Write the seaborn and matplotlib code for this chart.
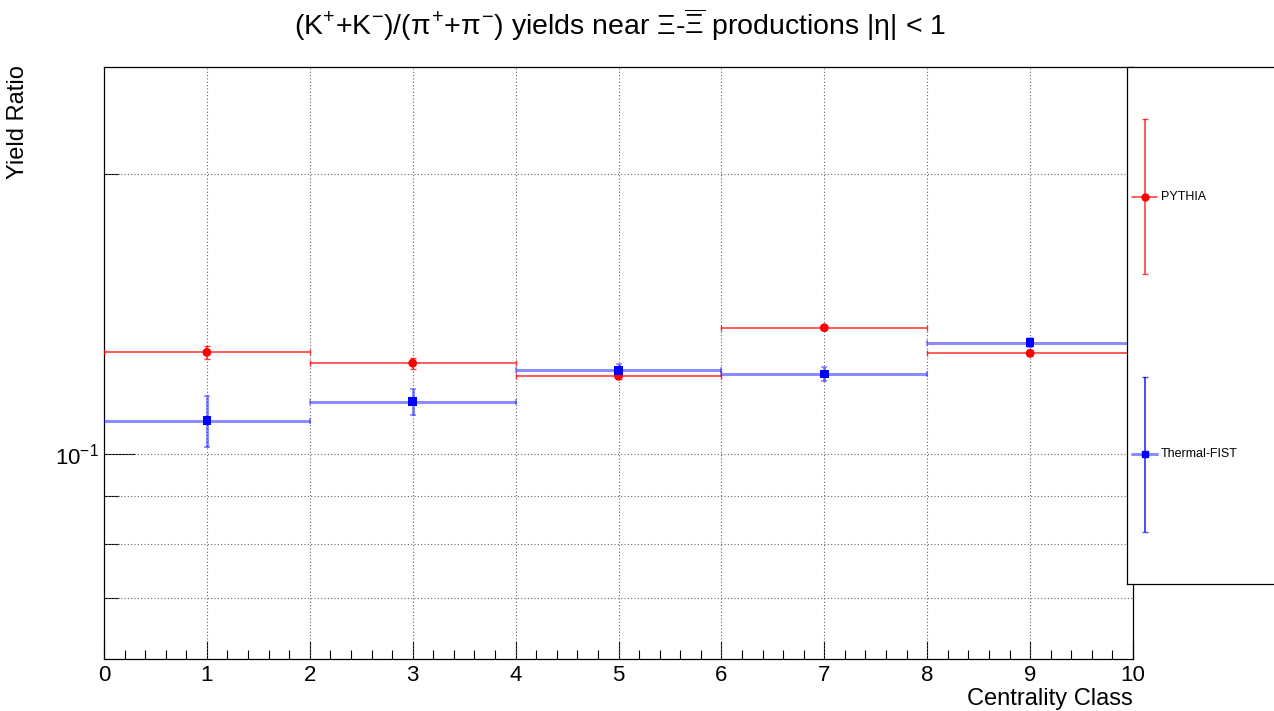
import numpy as np
import pandas as pd
import matplotlib
matplotlib.use("Agg")
import matplotlib.pyplot as plt
import seaborn as sns
from matplotlib.ticker import FixedLocator, FixedFormatter, NullFormatter

# ---- data ----
centrality = [1, 3, 5, 7, 9]
bin_halfwidth = [1, 1, 1, 1, 1]
pythia = [0.1286, 0.1252, 0.1212, 0.1367, 0.1283]
pythia_err = [0.0022, 0.0017, 0.0008, 0.0007, 0.0009]
thermal = [0.1085, 0.1138, 0.1230, 0.1219, 0.1317]
thermal_err = [0.0069, 0.0037, 0.0018, 0.0020, 0.0014]
xtick_labels = [str(i) for i in range(11)]

sns.set_theme(style="white")
plt.rcParams['font.family'] = ['Liberation Sans', 'DejaVu Sans']
plt.rcParams['mathtext.fontset'] = 'custom'
plt.rcParams['mathtext.rm'] = 'Liberation Sans'
plt.rcParams['mathtext.it'] = 'Liberation Sans'
plt.rcParams['mathtext.sf'] = 'Liberation Sans'
plt.rcParams['text.color'] = 'black'
plt.rcParams['xtick.color'] = 'black'
plt.rcParams['ytick.color'] = 'black'

W, H = 1274, 711
fig = plt.figure(figsize=(W / 100, H / 100), dpi=100)
fig.patch.set_facecolor('white')
L, R, T, B = 104, 1133, 67, 659
ax = fig.add_axes([L / W, 1 - B / H, (R - L) / W, (B - T) / H])
ax.set_facecolor('white')

df = pd.DataFrame({
    'x': centrality * 2,
    'y': pythia + thermal,
    'model': ['PYTHIA'] * 5 + ['Thermal-FIST'] * 5,
})

# error bars
ax.errorbar(centrality, thermal, yerr=thermal_err, xerr=bin_halfwidth, fmt='none',
            ecolor=(0, 0, 1, 0.45), elinewidth=2.2, capsize=2, capthick=1.2, zorder=3)
ax.errorbar(centrality, pythia, yerr=pythia_err, xerr=bin_halfwidth, fmt='none',
            ecolor=(1, 0, 0, 0.75), elinewidth=1.2, capsize=2, capthick=1.0, zorder=3)
sns.scatterplot(data=df, x='x', y='y', hue='model', style='model',
                palette={'PYTHIA': 'red', 'Thermal-FIST': 'blue'},
                markers={'PYTHIA': 'o', 'Thermal-FIST': 's'},
                s=40, edgecolor='none', legend=False, ax=ax, zorder=4)

ax.set_yscale('log')
ax.set_xlim(0, 10)
ax.set_ylim(0.0601, 0.261)
ax.set_xlabel('')
ax.set_ylabel('')

# x ticks
ax.xaxis.set_major_locator(FixedLocator(range(11)))
ax.xaxis.set_major_formatter(FixedFormatter(xtick_labels))
ax.xaxis.set_minor_locator(FixedLocator(np.arange(0, 10.01, 0.2)))
ax.tick_params(axis='x', which='major', direction='in', length=13, width=0.8,
               labelsize=16, pad=4, color='black', labelcolor='black', bottom=True, top=False)
ax.tick_params(axis='x', which='minor', direction='in', length=6.5, width=0.8,
               bottom=True, top=False, color='black')

# y ticks
ax.yaxis.set_major_locator(FixedLocator([0.1]))
ax.yaxis.set_major_formatter(FixedFormatter([r'$10^{-1}$']))
ax.yaxis.set_minor_locator(FixedLocator([0.07, 0.08, 0.09, 0.2]))
ax.yaxis.set_minor_formatter(NullFormatter())
ax.tick_params(axis='y', which='major', direction='in', length=22, width=0.8,
               labelsize=16, pad=4, left=True, right=False, color='black', labelcolor='black')
ax.tick_params(axis='y', which='minor', direction='in', length=10.6, width=0.8,
               left=True, right=False, color='black')

# grid
for xv in range(1, 10):
    ax.axvline(xv, color='#666666', lw=0.8, ls=(0, (1, 2)), zorder=1)
for yv in [0.07, 0.08, 0.09, 0.1, 0.2]:
    ax.axhline(yv, color='#666666', lw=0.8, ls=(0, (1, 2)), zorder=1)

for s in ax.spines.values():
    s.set_visible(True)
    s.set_color('black')
    s.set_linewidth(0.9)

# titles / labels
fig.text(620 / W, 1 - 25 / H,
         r'(K$^{+}$+K$^{-}$)/($\pi^{+}$+$\pi^{-}$) yields near $\Xi$-$\overline{\Xi}$ productions |$\eta$| < 1',
         ha='center', va='center', fontsize=20.5, color='black')
fig.text(18 / W, 1 - 65 / H, 'Yield Ratio', rotation=90, ha='center', va='top',
         fontsize=17, color='black')
fig.text(R / W, 1 - 699 / H, 'Centrality Class', ha='right', va='center',
         fontsize=17, color='black')

# legend box (ROOT style)
lx0, ly0, ly1 = 1127, 67, 584
lw_fig = 170
lax = fig.add_axes([lx0 / W, 1 - ly1 / H, lw_fig / W, (ly1 - ly0) / H], zorder=10)
lax.set_xlim(lx0, lx0 + lw_fig)
lax.set_ylim(ly1, ly0)
lax.set_facecolor('white')
lax.set_xticks([])
lax.set_yticks([])
for s in lax.spines.values():
    s.set_color('black')
    s.set_linewidth(0.9)

lax.errorbar([1144.5], [196.8], yerr=[[196.8 - 119.5], [273.7 - 196.8]], fmt='o',
             color='red', ecolor=(1, 0, 0, 0.75), elinewidth=1.2, capsize=2.5,
             ms=5, mec='red')
lax.plot([1132, 1157], [196.8, 196.8], color=(1, 0, 0, 0.75), lw=1.2)
lax.text(1161, 196.8, 'PYTHIA', ha='left', va='center', fontsize=9, color='black')
lax.errorbar([1144.5], [454.5], yerr=[[454.5 - 376.8], [531.8 - 454.5]], fmt='s',
             color='blue', ecolor=(0, 0, 1, 0.7), elinewidth=1.4, capsize=2.5,
             ms=5, mec='blue')
lax.plot([1132, 1157], [454.5, 454.5], color=(0, 0, 1, 0.45), lw=2.2)
lax.text(1161, 454.5, 'Thermal-FIST', ha='left', va='center', fontsize=9, color='black')

fig.savefig('out.png', dpi=100)
